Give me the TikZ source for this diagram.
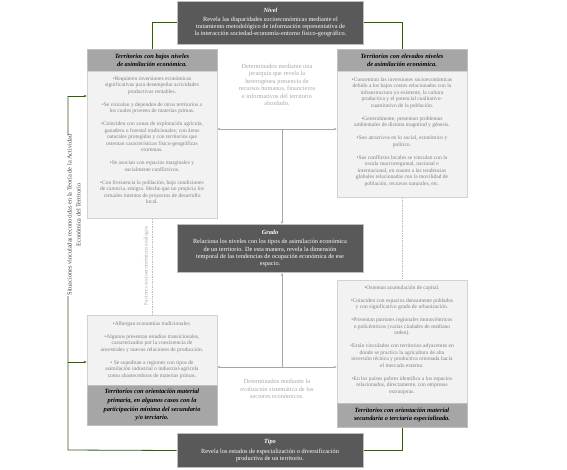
\documentclass[tikz,border=0pt]{standalone}
\usepackage{fontspec}
\setmainfont{Liberation Serif}
\usetikzlibrary{arrows.meta}
\definecolor{cDark}{HTML}{595959}
\definecolor{cHdr}{HTML}{A6A6A6}
\definecolor{cBody}{HTML}{F2F2F2}
\definecolor{cBodyTxt}{HTML}{7F7F7F}
\definecolor{cGrn}{HTML}{375623}
\definecolor{cLine}{HTML}{BFBFBF}
\definecolor{cLab}{HTML}{404040}
\begin{document}
\begin{tikzpicture}[x=1pt,y=-1pt,
  darkbox/.style={fill=cDark, draw=cLine, line width=1pt, text=white, align=center, inner sep=2pt, font=\fontsize{6.3}{7.2}\selectfont},
  hdrbox/.style={fill=cHdr, draw=cLine, line width=0.5pt, align=center, inner sep=1pt, font=\fontsize{6.4}{8}\selectfont\bfseries\itshape},
  bodybox/.style={fill=cBody, draw=cLine!70, line width=0.5pt, inner sep=0pt},
  bodytext/.style={text=cBodyTxt, align=center, inner sep=0pt, font=\fontsize{5.5}{6.5}\selectfont},
  ctext/.style={text=cHdr, align=center, inner sep=0pt, font=\fontsize{6.3}{7.5}\selectfont},
  grnline/.style={draw=cGrn, line width=0.8pt},
  gline/.style={draw=cHdr, line width=0.5pt},
  dline/.style={draw=cLine, line width=0.5pt, dash pattern=on 1.5pt off 1pt},
  arrowend/.style={-{Stealth[length=3pt,width=2.4pt]}},
  arrowboth/.style={{Stealth[length=3pt,width=2.4pt]}-{Stealth[length=3pt,width=2.4pt]}}
]
\useasboundingbox (0,0) rectangle (567,469);

% dark boxes
\node[darkbox, minimum width=186pt, minimum height=43pt, anchor=north] (niv) at (270.5,0.5)
  {\textbf{\textit{Nivel}}\\[2pt] Revela las disparidades socioeconómicas mediante el\\ tratamiento metodológico de información representativa de\\ la interacción sociedad-economía-entorno físico-geográfico.};
\node[darkbox, minimum width=186pt, minimum height=48pt, anchor=north] (grado) at (270,224)
  {\textbf{\textit{Grado}}\\[2pt] Relaciona los niveles con los tipos de asimilación económica\\ de un territorio. De esta manera, revela la dimensión\\ temporal de las tendencias de ocupación económica de ese\\ espacio.};
\node[darkbox, minimum width=186pt, minimum height=34pt, anchor=north] (tipo) at (270,433)
  {\textbf{\textit{Tipo}}\\[3pt] Revela los estados de especialización o diversificación\\ productiva de un territorio.};

% top-left
\node[hdrbox, minimum width=130pt, minimum height=22pt, anchor=north] (tlh) at (152,49)
  {Territorios con bajos niveles\\ de asimilación económica.};
\node[bodybox, minimum width=130pt, minimum height=147pt, anchor=north] (tlb) at (152,71) {};
\node[bodytext, anchor=north] (tlt) at (152,76)
  {•Requieren inversiones económicas\\ significativas para desempeñar actividades\\ productivas rentables.\\[6.5pt]
   •Se vinculan y dependen de otros territorios a\\ los cuales proveen de materias primas.\\[6.5pt]
   •Coinciden con zonas de explotación agrícola,\\ ganadera o forestal tradicionales; con áreas\\ naturales protegidas y con territorios que\\ ostentan características físico-geográficas\\ extremas.\\[6.5pt]
   •Se asocian con espacios marginales y\\ socialmente conflictivos.\\[6.5pt]
   •Con frecuencia la población, bajo condiciones\\ de carencia, emigra. Hecho que no propicia los\\ virtuales intentos de proyectos de desarrollo\\ local.};

% top-right
\node[hdrbox, minimum width=130pt, minimum height=22pt, anchor=north] (trh) at (402,49)
  {Territorios con elevados niveles\\ de asimilación económica.};
\node[bodybox, minimum width=130pt, minimum height=126pt, anchor=north] (trb) at (402,71) {};
\node[bodytext, anchor=north] (trt) at (402,77)
  {•Concentran las inversiones socioeconómicas\\ debido a los bajos costos relacionados con la\\ infraestructura ya existente, la cultura\\ productiva y el potencial cualitativo-\\ cuantitativo de la población.\\[6.5pt]
   •Generalmente, presentan problemas\\ ambientales de distinta magnitud y génesis.\\[6.5pt]
   •Son atractivos en lo social, económico y\\ político.\\[6.5pt]
   •Sus conflictos locales se vinculan con la\\ escala macrorregional, nacional e\\ internacional, en cuanto a las tendencias\\ globales relacionadas con la movilidad de\\ población, recursos naturales, etc.};

% bottom-left
\node[bodybox, minimum width=130pt, minimum height=70pt, anchor=north] (blb) at (152,315) {};
\node[bodytext, anchor=north] (blt) at (152,321)
  {•Albergan economías tradicionales.\\[6.5pt]
   •Algunos presentan estadios transicionales,\\ caracterizados por la coexistencia de\\ ancestrales y nuevas relaciones de producción.\\[6.5pt]
   • Se supeditan a regiones con tipos de\\ asimilación industrial o industrial-agrícola\\ como abastecedoras de materias primas.};
\node[hdrbox, minimum width=130pt, minimum height=40pt, anchor=north, font=\fontsize{6.4}{8.8}\selectfont\bfseries\itshape] (blh) at (152,385)
  {Territorios con orientación material\\ primaria, en algunos casos con la\\ participación mínima del secundario\\ y/o terciario.};

% bottom-right
\node[bodybox, minimum width=130pt, minimum height=123pt, anchor=north] (brb) at (402,280) {};
\node[bodytext, anchor=north] (brt) at (402,285)
  {•Ostentan acumulación de capital.\\[6.5pt]
   •Coinciden con espacios densamente poblados\\ y con significativo grado de urbanización.\\[6.5pt]
   •Presentan patrones regionales monocéntricos\\ o policéntricos (varias ciudades de mediano\\ orden).\\[6.5pt]
   •Están vinculados con territorios adyacentes en\\ donde se practica la agricultura de alta\\ inversión técnica y productiva orientada hacia\\ el mercado externo.\\[6.5pt]
   •En los países pobres identifica a los espacios\\ relacionados, directamente, con empresas\\ extranjeras.};
\node[hdrbox, minimum width=130pt, minimum height=24pt, anchor=north] (brh) at (402,403)
  {Territorios con orientación material\\ secundaria o terciaria especializada.};

% centre texts
\node[ctext] (ct1) at (277,85)
  {Determinados mediante una\\ jerarquía que revela la\\ heterogénea presencia de\\ recursos humanos, financieros\\ e informativos del territorio\\ abordado.};
\node[ctext] (ct2) at (277,389)
  {Determinados mediante la\\ evaluación sistemática de los\\ sectores económicos.};

% green connectors
\draw[grnline] (niv.west) -| (tlh.north);
\draw[grnline] (niv.east) -| (trh.north);
\draw[grnline] (tipo.east) -| (brh.south);
\coordinate (lc) at (68,450);
\coordinate (lt) at (68,96);
\coordinate (lm) at (68,362);
\draw[grnline] (tipo.west) -- (lc) -- (lt);
\draw[grnline, arrowend] (lt) -- (lt -| tlb.west);
\draw[grnline, arrowend] (lm) -- (lm -| blb.west);

% gray connectors
\coordinate (ha) at (282,129);
\coordinate (hb) at (282,367);
\draw[gline, arrowboth] (ha -| tlb.east) -- (ha -| trb.west);
\draw[gline, arrowboth] (hb -| blb.east) -- (hb -| brb.west);
\draw[gline, arrowend] (ha) -- (ha |- grado.north);
\draw[gline, arrowend] (hb) -- (hb |- grado.south);

% dashed connectors
\draw[dline] (tlb.south) -- (blb.north);
\draw[dline] (trb.south) -- (brb.north);

% rotated labels
\node[rotate=90, anchor=south, text=cHdr, inner sep=1pt, font=\fontsize{5.5}{6.5}\selectfont] (fac) at (150,266) {Factores socioeconómicos análogos};
\node[rotate=90, fill=white, inner sep=1pt, align=center, text=cLab, font=\fontsize{6.3}{9}\selectfont] (sit) at (74,215)
  {Situaciones vinculadas reconocidas en la Teoría de la Actividad\\ Económica del Territorio};
\end{tikzpicture}
\end{document}
